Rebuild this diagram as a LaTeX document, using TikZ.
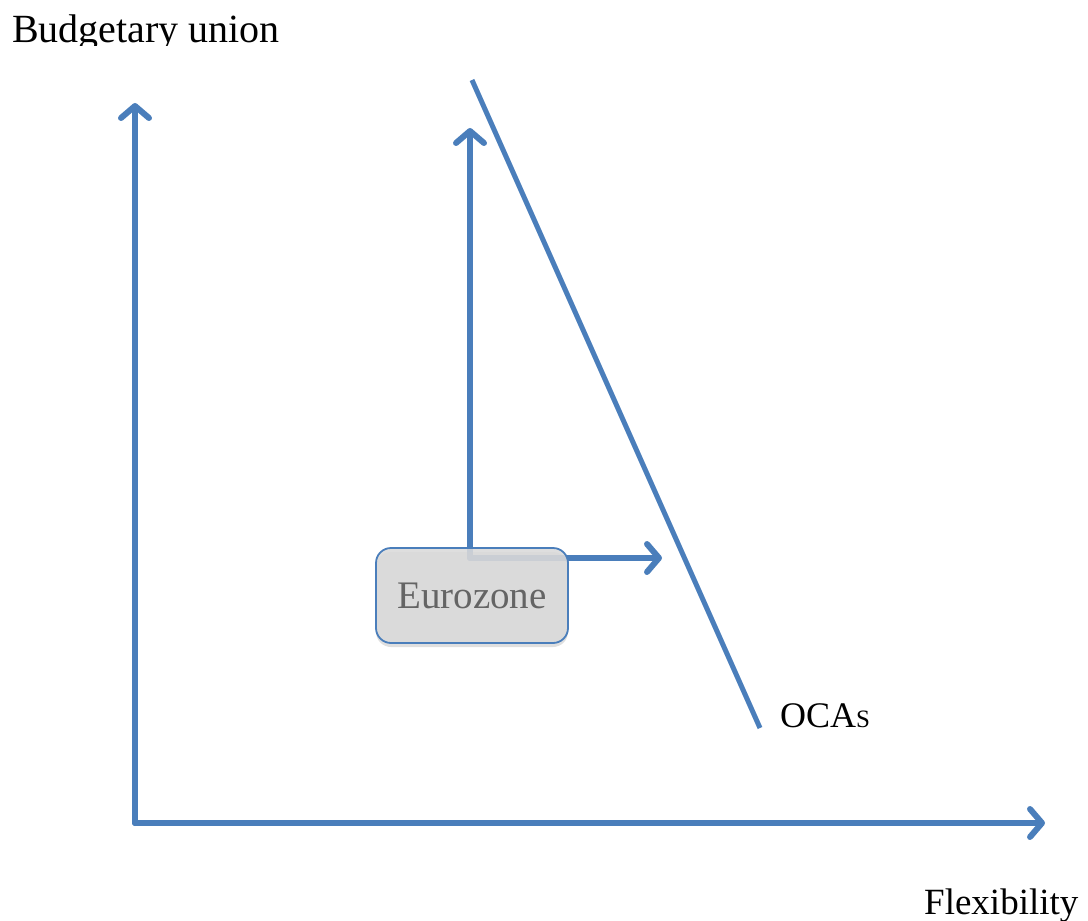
\documentclass[tikz,border=0pt]{standalone}
\usepackage{fontspec}
\setmainfont{Liberation Serif}
\usetikzlibrary{arrows.meta,shadows}
\definecolor{ocablue}{HTML}{4A7EBB}
\definecolor{ezgray}{HTML}{DADADA}
\definecolor{eztext}{HTML}{646464}
\begin{document}
\begin{tikzpicture}[x=1pt,y=-1pt,
  axis/.style={draw=ocablue,line width=6pt,line cap=round,line join=round,
    -{Straight Barb[length=12pt,width=28pt,line cap=round,line join=round]}},
  ocaline/.style={draw=ocablue,line width=5pt},
  lbl/.style={inner sep=0pt,anchor=base west},
  ezbox/.style={draw=ocablue,line width=1.8pt,fill=ezgray,fill opacity=0.88,text opacity=1,
    rounded corners=15pt,minimum width=192pt,minimum height=95pt,inner sep=0pt,
    text=eztext,font=\fontsize{39}{44}\selectfont,
    drop shadow={opacity=0.25,shadow xshift=0pt,shadow yshift=-4pt}}]
\useasboundingbox (0,0) rectangle (1088,921);
% coordinates
\coordinate (O) at (135,823);
\coordinate (ytop) at (135,103);
\coordinate (xend) at (1045,823);
\coordinate (c) at (470,558);
\coordinate (ctop) at (470,128);
\coordinate (cright) at (662,558);
\coordinate (oa) at (472,80);
\coordinate (ob) at (760,728);
% axes
\draw[axis] (O) -- (ytop);
\draw[axis] (O) -- (xend);
% inner arrows
\draw[axis] (c) -- (ctop);
\draw[axis] (c) -- (cright);
% OCA line
\draw[ocaline] (oa) -- (ob);
% Eurozone box
\node[ezbox] (ez) at (472,595.5) {Eurozone};
% labels
\begin{scope}
\clip (0,0) rectangle (1088,45);
\node[lbl,font=\fontsize{40}{44}\selectfont] (by) at (12,42) {Budgetary union};
\end{scope}
\node[lbl,font=\fontsize{37}{40}\selectfont] (fx) at (924,914) {Flexibility};
\node[lbl,font=\fontsize{36}{40}\selectfont] (oca) at (780,727) {OCA{\fontsize{25}{28}\selectfont S}};
\end{tikzpicture}
\end{document}
